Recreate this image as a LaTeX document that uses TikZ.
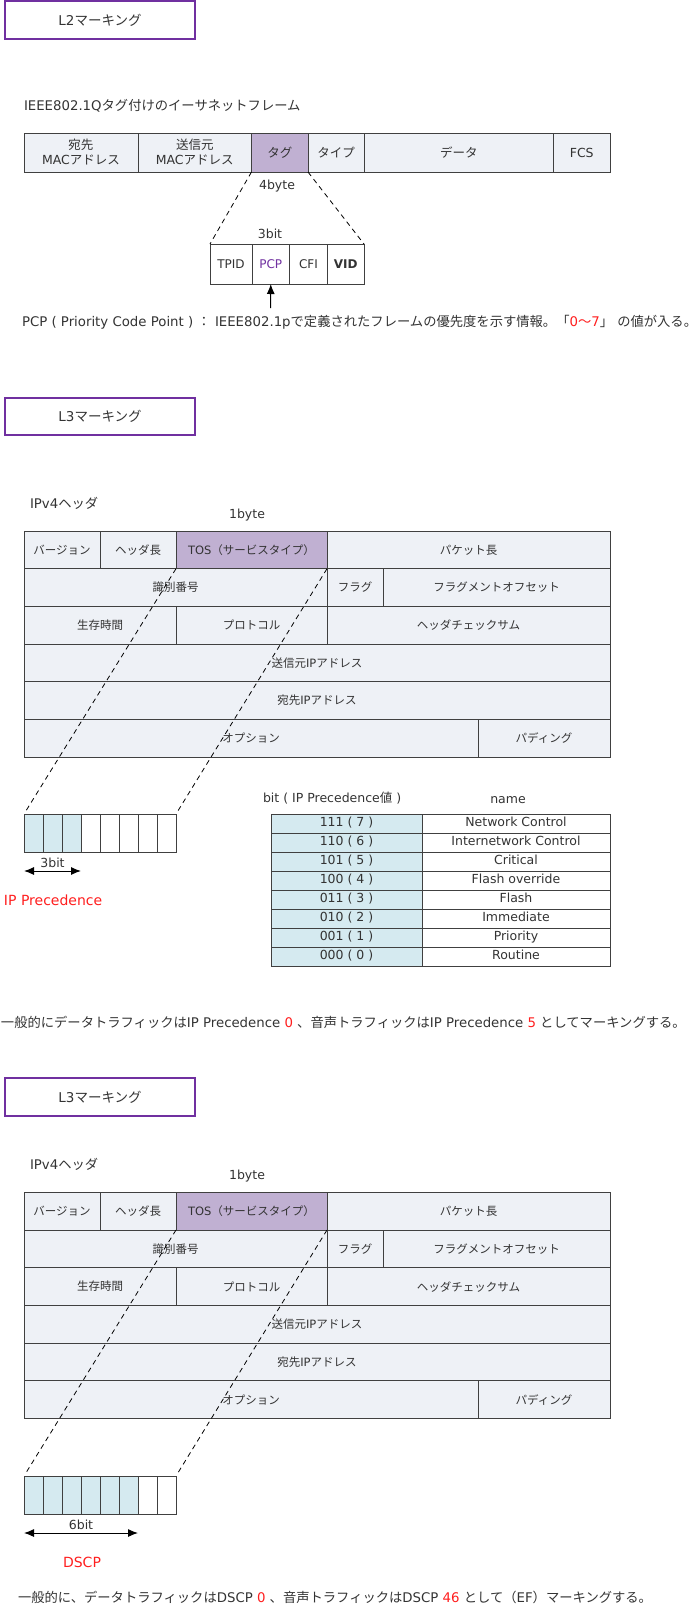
\documentclass[tikz,border=0pt]{standalone}
\usepackage{fontspec}
\setmainfont{DejaVu Sans}
\newfontfamily\jfont{Noto Sans CJK JP}
\newcommand\ja[1]{{\jfont #1}}
\usetikzlibrary{positioning, arrows.meta}

\definecolor{cellfill}{RGB}{238,241,246}
\definecolor{tagfill}{RGB}{192,176,210}
\definecolor{titleline}{RGB}{112,48,160}
\definecolor{bitfill}{RGB}{213,234,240}
\definecolor{txt}{RGB}{51,51,51}
\definecolor{hot}{RGB}{255,30,30}

\begin{document}
\begin{tikzpicture} [
    x=1pt, y=-1pt,
    every node/.style={text=txt, outer sep=0pt, inner sep=0pt},
    heading/.style={rectangle, draw=titleline, line width=1.2pt, minimum width=190pt, minimum height=38pt, anchor=north west, font=\fontsize{13.5}{16}\selectfont},
    caption/.style={anchor=west, font=\fontsize{13.3}{16}\selectfont},
    small/.style={font=\fontsize{12.5}{15}\selectfont},
    field/.style={rectangle, draw=black!75, line width=1pt, fill=cellfill, minimum height=37.7pt, align=center, font=\fontsize{11.5}{14}\selectfont},
    ethcell/.style={rectangle, draw=black!75, line width=1pt, fill=cellfill, minimum height=39pt, align=center, font=\fontsize{12.5}{15}\selectfont},
    subcell/.style={field, fill=white, minimum height=40pt, font=\fontsize{12}{14}\selectfont},
    bitcell/.style={rectangle, draw=black!75, line width=1pt, minimum width=19pt, minimum height=38pt},
    prec/.style={rectangle, draw=black!75, line width=0.8pt, minimum height=19pt, text height=9pt, text depth=2.5pt, font=\fontsize{12.5}{14}\selectfont},
    cut/.style={dash pattern=on 5pt off 4pt, line width=0.8pt},
    pointer/.style={-{Latex[length=10pt,width=8pt]}, line width=1pt},
    dimarrow/.style={{Latex[length=10pt,width=8pt]}-{Latex[length=10pt,width=8pt]}, line width=1pt},
    redlabel/.style={text=hot, font=\fontsize{14}{17}\selectfont}
]
\useasboundingbox (0,0) rectangle (699,1606);

% L2 marking
\node[heading] (ltwo) at (5,1) {L2\ja{マーキング}};
\node[caption] (framecap) at (24,106) {IEEE802.1Q\ja{タグ付けのイーサネットフレーム}};
\node[ethcell, minimum width=114pt, anchor=north west] (dst) at (24,133) {\ja{宛先}\\MAC\ja{アドレス}};
\node[ethcell, minimum width=113.5pt, right=0pt of dst] (src) {\ja{送信元}\\MAC\ja{アドレス}};
\node[ethcell, fill=tagfill, minimum width=56.5pt, right=0pt of src] (tag) {\ja{タグ}};
\node[ethcell, minimum width=56pt, right=0pt of tag] (type) {\ja{タイプ}};
\node[ethcell, minimum width=189.5pt, right=0pt of type] (data) {\ja{データ}};
\node[ethcell, minimum width=56.5pt, right=0pt of data] (fcs) {FCS};
\node[small] (tagbyte) at (277,186) {4byte};
\node[small] (pcpbit) at (270,234) {3bit};
\node[subcell, minimum width=42pt, anchor=north west] (tpid) at (210,244) {TPID};
\node[subcell, minimum width=37.5pt, text=titleline, right=0pt of tpid] (pcp) {PCP};
\node[subcell, minimum width=38pt, right=0pt of pcp] (cfi) {CFI};
\node[subcell, minimum width=36.5pt, right=0pt of cfi] (vid) {\textbf{VID}};
\coordinate (pcptail) at (270.7,308);
\node[caption] (pcpnote) at (22,322) {PCP ( Priority Code Point ) \ja{：} IEEE802.1p\ja{で定義されたフレームの優先度を示す情報。「}\textcolor{hot}{0\ja{～}7}\ja{」} \ja{の値が入る。}};

\draw[cut] (tag.south west) -- (tpid.north west);
\draw[cut] (tag.south east) -- (vid.north east);
\draw[pointer] (pcptail) -- (pcp.south);

% L3 marking (IP Precedence / DSCP)
\node[heading, minimum height=37pt] (lthreea) at (5,398) {L3\ja{マーキング}};
\node[heading] (lthreeb) at (5,1078) {L3\ja{マーキング}};

\foreach \s/\y/\n/\by in {a/531/3/814, b/1192.3/6/1476} {
    \node[caption] (\s-cap) at (30,\y-28) {IPv4\ja{ヘッダ}};
    \node[small] (\s-byte) at (247,\y-16) {1byte};
    \node[field, minimum width=76pt, anchor=north west] (\s-ver) at (24,\y) {\ja{バージョン}};
    \node[field, minimum width=76pt, right=0pt of \s-ver] (\s-hlen) {\ja{ヘッダ長}};
    \node[field, fill=tagfill, minimum width=151pt, right=0pt of \s-hlen] (\s-tos) {TOS\ja{（サービスタイプ）}};
    \node[field, minimum width=283pt, right=0pt of \s-tos] (\s-plen) {\ja{パケット長}};
    \node[field, minimum width=303pt, anchor=north west] (\s-ident) at (24,\y+37.7) {\ja{識別番号}};
    \node[field, minimum width=56pt, right=0pt of \s-ident] (\s-flag) {\ja{フラグ}};
    \node[field, minimum width=227pt, right=0pt of \s-flag] (\s-frag) {\ja{フラグメントオフセット}};
    \node[field, minimum width=152pt, anchor=north west] (\s-ttl) at (24,\y+75.4) {\ja{生存時間}};
    \node[field, minimum width=151pt, right=0pt of \s-ttl] (\s-proto) {\ja{プロトコル}};
    \node[field, minimum width=283pt, right=0pt of \s-proto] (\s-csum) {\ja{ヘッダチェックサム}};
    \node[field, minimum width=586pt, anchor=north west] (\s-srcip) at (24,\y+113.1) {\ja{送信元}IP\ja{アドレス}};
    \node[field, minimum width=586pt, anchor=north west] (\s-dstip) at (24,\y+150.8) {\ja{宛先}IP\ja{アドレス}};
    \node[field, minimum width=454pt, anchor=north west] (\s-opt) at (24,\y+188.5) {\ja{オプション}};
    \node[field, minimum width=132pt, right=0pt of \s-opt] (\s-pad) {\ja{パディング}};
    % TOS bits
    \foreach \i in {1,...,8} {
        \ifnum\i>\n \def\bc{white}\else \def\bc{bitfill}\fi
        \node[bitcell, fill=\bc, anchor=north west] (\s-b\i) at (5+19*\i,\by) {};
    }
    \draw[cut, shorten >=4pt] (\s-tos.south west) -- (\s-b1.north west);
    \draw[cut, shorten >=4pt] (\s-tos.south east) -- (\s-b8.north east);
    \coordinate (\s-l) at (24,\by+57);
    \coordinate (\s-r) at (24+19*\n,\by+57);
    \draw[dimarrow] (\s-l) -- node[above=3pt, small] (\s-w) {\n{}bit} (\s-r);
}

\node[redlabel, anchor=west] (iprec) at (4,900) {IP Precedence};
\node[caption, small] (bithead) at (263,798) {bit ( IP Precedence\ja{値} )};
\node[small] (namehead) at (508,800) {name};
\foreach \v/\m [count=\i from 0] in {111 ( 7 )/Network Control, 110 ( 6 )/Internetwork Control, 101 ( 5 )/Critical, 100 ( 4 )/Flash override, 011 ( 3 )/Flash, 010 ( 2 )/Immediate, 001 ( 1 )/Priority, 000 ( 0 )/Routine} {
    \node[prec, fill=bitfill, minimum width=151pt, anchor=north west] (pv\i) at (271,814+19*\i) {\v};
    \node[prec, fill=white, minimum width=188pt, right=0pt of pv\i] (pn\i) {\m};
}
\node[caption] (precnote) at (1,1022) {\ja{一般的にデータトラフィックは}IP Precedence \textcolor{hot}{0} \ja{、音声トラフィックは}IP Precedence \textcolor{hot}{5} \ja{としてマーキングする。}};

\node[redlabel] (dscp) at (82,1562) {DSCP};
\node[caption] (dscpnote) at (18,1597) {\ja{一般的に、データトラフィックは}DSCP \textcolor{hot}{0} \ja{、音声トラフィックは}DSCP \textcolor{hot}{46} \ja{として（}EF\ja{）マーキングする。}};

\end{tikzpicture}
\end{document}
